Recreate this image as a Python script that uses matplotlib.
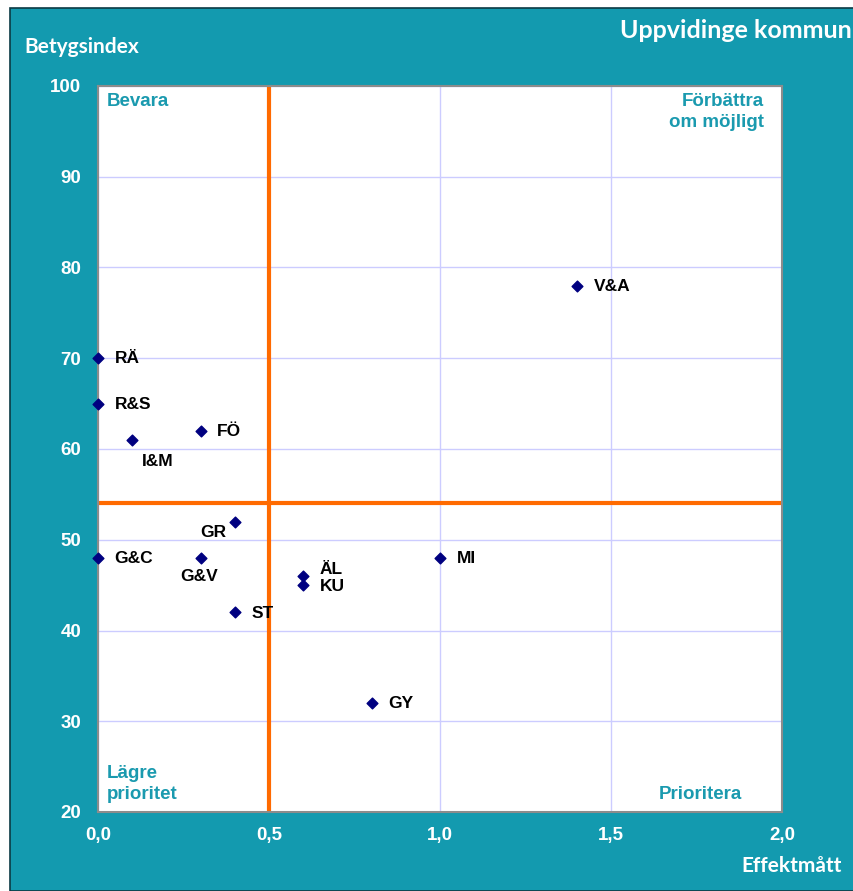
import matplotlib
matplotlib.use("Agg")
import matplotlib.pyplot as plt
from matplotlib.patches import Rectangle

labels = ["V&A", "RÄ", "R&S", "I&M", "FÖ", "GR", "G&C", "G&V", "ÄL", "KU", "MI", "ST", "GY"]
x_vals = [1.4, 0.0, 0.0, 0.1, 0.3, 0.4, 0.0, 0.3, 0.6, 0.6, 1.0, 0.4, 0.8]
y_vals = [78, 70, 65, 61, 62, 52, 48, 48, 46, 45, 48, 42, 32]
# label offsets in points (dx, dy)
offsets = {"V&A": (12, -0.5), "RÄ": (12, -0.5), "R&S": (12, -0.5), "I&M": (7, -15.5), "FÖ": (12, -0.5),
           "GR": (-25, -8), "G&C": (12, -0.5), "G&V": (-15, -13.5), "ÄL": (12, 5), "KU": (12, -1),
           "MI": (12, -0.5), "ST": (12, -0.5), "GY": (12, -0.5)}
x_ticks = [0.0, 0.5, 1.0, 1.5, 2.0]
x_ticklabels = ["0,0", "0,5", "1,0", "1,5", "2,0"]
y_ticks = [20, 30, 40, 50, 60, 70, 80, 90, 100]
x_split = 0.5
y_split = 54

TEAL = "#139aaf"
W, H = 854, 891
fig = plt.figure(figsize=(W / 100, H / 100), dpi=100)
fig.patch.set_facecolor("white")
fig.patches.append(Rectangle((10 / W, 0), 1, 1 - 8 / H, transform=fig.transFigure,
                             facecolor=TEAL, edgecolor="#0b3a44", linewidth=1.2, zorder=-5))

ax = fig.add_axes([98 / W, 1 - 812 / H, (782 - 98) / W, (812 - 86) / H])
ax.set_zorder(2)
ax.set_facecolor("white")
ax.set_xlim(0, 2)
ax.set_ylim(20, 100)
ax.set_xticks(x_ticks)
ax.set_xticklabels(x_ticklabels)
ax.set_yticks(y_ticks)
for lab in ax.get_xticklabels() + ax.get_yticklabels():
    lab.set_fontfamily("Liberation Sans")
    lab.set_fontweight("bold")
    lab.set_fontsize(13.5)
    lab.set_color("white")
ax.tick_params(axis="x", length=0, pad=11)
ax.tick_params(axis="y", length=0, pad=12)
ax.grid(True, color="#ccccff", linewidth=1)
ax.set_axisbelow(True)
for s in ax.spines.values():
    s.set_color("#8c8c8c")
    s.set_linewidth(1.5)

ax.axvline(x_split, color="#ff6a00", linewidth=3, zorder=2)
ax.axhline(y_split, color="#ff6a00", linewidth=3, zorder=2)

ax.scatter(x_vals, y_vals, marker="D", s=30, color="#000080", zorder=4, clip_on=False)
for lab, xv, yv in zip(labels, x_vals, y_vals):
    dx, dy = offsets[lab]
    ax.annotate(lab, (xv, yv), xytext=(dx, dy), textcoords="offset points",
                ha="left", va="center", fontsize=12.5, fontweight="bold",
                fontfamily="Liberation Sans", color="black", zorder=5)

qcol = "#1a9aaf"
qkw = dict(fontsize=13.5, fontweight="bold", fontfamily="Liberation Sans", color=qcol,
           transform=ax.transAxes, linespacing=1.3)
ax.text(0.013, 0.99, "Bevara", ha="left", va="top", **qkw)
ax.text(0.973, 0.99, "Förbättra\nom möjligt", ha="right", va="top", multialignment="right", **qkw)
ax.text(0.013, 0.012, "Lägre\nprioritet", ha="left", va="bottom", **qkw)
ax.text(0.942, 0.012, "Prioritera", ha="right", va="bottom", **qkw)

fig.text(24 / W, 1 - 47 / H, "Betygsindex", ha="left", va="center", fontsize=15,
         fontweight="bold", fontfamily="Lato", color="white")
fig.text(842 / W, 1 - 866 / H, "Effektmått", ha="right", va="center", fontsize=15,
         fontweight="bold", fontfamily="Lato", color="white")
fig.text(620 / W, 1 - 31 / H, "Uppvidinge kommun", ha="left", va="center", fontsize=18,
         fontweight="bold", fontfamily="Lato", color="white")

fig.savefig("out.png", dpi=100, facecolor=fig.get_facecolor())
